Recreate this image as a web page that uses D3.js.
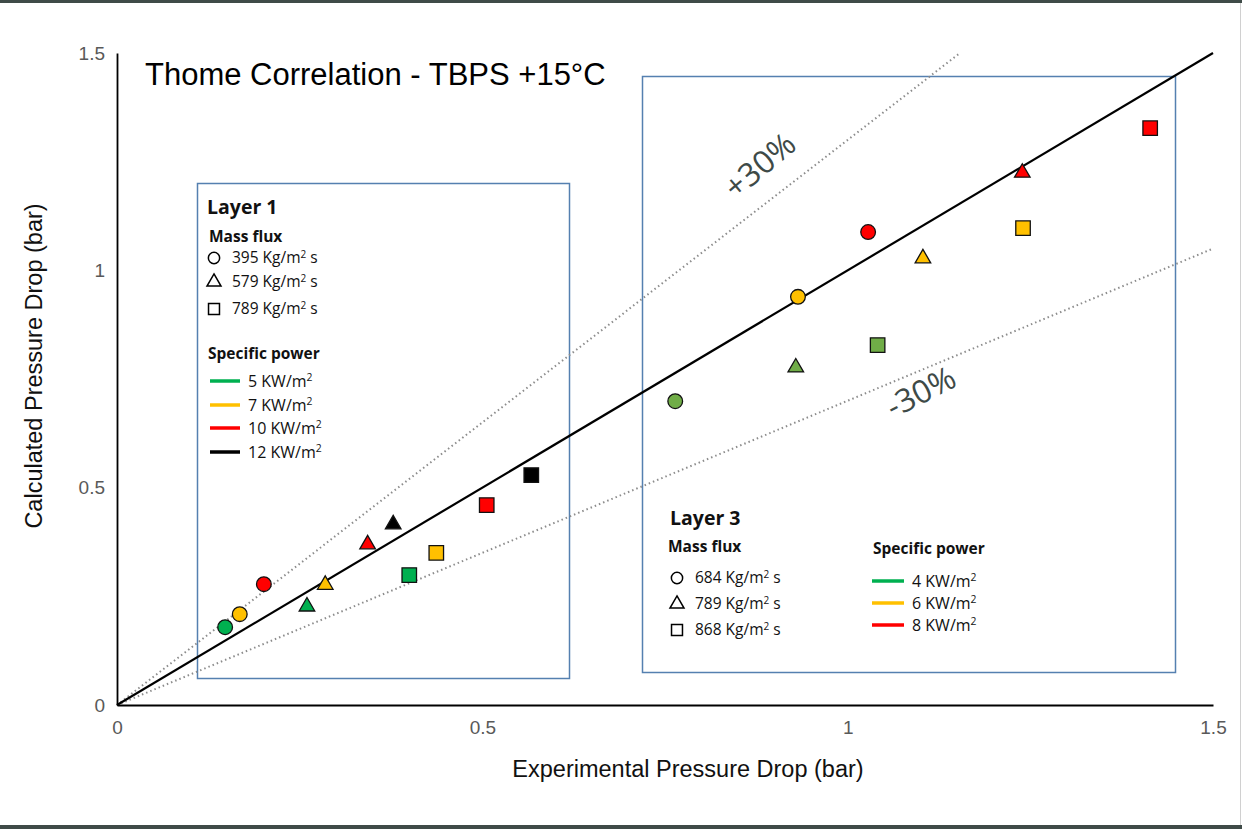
<!DOCTYPE html>
<html><head><meta charset="utf-8">
<script src="https://cdn.jsdelivr.net/npm/d3@7"></script>
<style>body{margin:0;background:#fff}svg{display:block}</style>
</head><body><svg id="c" width="1242" height="829"></svg>
<script>
// ---- data ----
const xTicks = [0, 0.5, 1, 1.5];
const yTicks = [0, 0.5, 1, 1.5];
const xTickLabels = ["0", "0.5", "1", "1.5"];
const yTickLabels = ["0", "0.5", "1", "1.5"];

// Layer 1
const l1Exp   = [0.148, 0.168, 0.201, 0.260, 0.285, 0.343, 0.378, 0.400, 0.437, 0.506, 0.567];
const l1Calc  = [0.179, 0.209, 0.278, 0.230, 0.280, 0.373, 0.419, 0.299, 0.350, 0.460, 0.529];
const l1Flux  = ["395", "395", "395", "579", "579", "579", "579", "789", "789", "789", "789"];
const l1Power = ["5", "7", "10", "5", "7", "10", "12", "5", "7", "10", "12"];
const l1FluxLevels  = ["395", "579", "789"];
const l1PowerLevels = ["5", "7", "10", "12"];

// Layer 3
const l3Exp   = [0.764, 0.932, 1.028, 0.929, 1.103, 1.239, 1.041, 1.240, 1.414];
const l3Calc  = [0.699, 0.939, 1.088, 0.780, 1.031, 1.228, 0.828, 1.097, 1.327];
const l3Flux  = ["684", "684", "684", "789", "789", "789", "868", "868", "868"];
const l3Power = ["4", "6", "8", "4", "6", "8", "4", "6", "8"];
const l3FluxLevels  = ["684", "789", "868"];
const l3PowerLevels = ["4", "6", "8"];

const bandFactors = [1.3, 0.7];
const bandLabels = ["+30%", "-30%"];

// ---- layout ----
const svg = d3.select("#c");
const x = d3.scaleLinear().domain([0, 1.5]).range([117, 1213]);
const y = d3.scaleLinear().domain([0, 1.5]).range([705, 53]);
const shapes = [d3.symbolCircle, d3.symbolTriangle, d3.symbolSquare];
const shapeSize = [170, 105, 210];
const l1Color = d3.scaleOrdinal().domain(l1PowerLevels).range(["#00B050", "#FFC000", "#FF0000", "#000000"]);
const l3Color = d3.scaleOrdinal().domain(l3PowerLevels).range(["#70AD47", "#FFC000", "#FF0000"]);
const l3LegendColor = d3.scaleOrdinal().domain(l3PowerLevels).range(["#00B050", "#FFC000", "#FF0000"]);
const legendFont = "'Open Sans', 'Noto Sans', sans-serif";
const mainFont = "'Liberation Sans', Arial, sans-serif";

// frame
svg.append("rect").attr("x", 0).attr("y", 0).attr("width", 1242).attr("height", 3).attr("fill", "#3F4B48");
svg.append("rect").attr("x", 0).attr("y", 825).attr("width", 1242).attr("height", 4).attr("fill", "#3F4B48");
svg.append("line").attr("x1", 1240.5).attr("x2", 1240.5).attr("y1", 3).attr("y2", 825).attr("stroke", "#D0D0D0");

// legend boxes
const boxStroke = "#5580B0";
svg.append("rect").attr("x", 197.5).attr("y", 183.5).attr("width", 372).attr("height", 495)
  .attr("fill", "none").attr("stroke", boxStroke).attr("stroke-width", 1.5);
svg.append("rect").attr("x", 642.5).attr("y", 76.5).attr("width", 533).attr("height", 596)
  .attr("fill", "none").attr("stroke", boxStroke).attr("stroke-width", 1.5);

// band lines
bandFactors.forEach(f => {
  const xe = Math.min(1.5, 1.5 / f);
  svg.append("line").attr("x1", x(0)).attr("y1", y(0)).attr("x2", x(xe)).attr("y2", y(xe * f))
    .attr("stroke", "#8C8C8C").attr("stroke-width", 2).attr("stroke-dasharray", "1.5,3");
});
// 1:1 line
svg.append("line").attr("x1", x(0)).attr("y1", y(0)).attr("x2", x(1.5)).attr("y2", y(1.5))
  .attr("stroke", "#000").attr("stroke-width", 2.2);

// axes
const xAxis = d3.axisBottom(x).tickValues(xTicks).tickFormat((d, i) => xTickLabels[i]).tickSize(0).tickPadding(16);
const yAxis = d3.axisLeft(y).tickValues(yTicks).tickFormat((d, i) => yTickLabels[i]).tickSize(0).tickPadding(12);
const gx = svg.append("g").attr("transform", "translate(0,705)").call(xAxis);
const gy = svg.append("g").attr("transform", "translate(117,0)").call(yAxis);
gx.select(".domain").attr("stroke", "#000").attr("stroke-width", 2.2);
gy.select(".domain").attr("stroke", "#000").attr("stroke-width", 1.8);
[gx, gy].forEach(g => g.selectAll("text").attr("fill", "#595959").attr("font-size", 19).attr("font-family", mainFont));

// axis titles
svg.append("text").attr("x", 688).attr("y", 777).attr("text-anchor", "middle")
  .attr("font-family", mainFont).attr("font-size", 23.5).attr("fill", "#111").text("Experimental Pressure Drop (bar)");
svg.append("text").attr("transform", "translate(42,366) rotate(-90)").attr("text-anchor", "middle")
  .attr("font-family", mainFont).attr("font-size", 23.5).attr("fill", "#111").text("Calculated Pressure Drop (bar)");

// title
svg.append("text").attr("x", 145).attr("y", 85).attr("font-family", mainFont).attr("font-size", 31)
  .attr("fill", "#000").text("Thome Correlation - TBPS +15°C");

// band labels
svg.append("text").attr("transform", "translate(767,174) rotate(-40)").attr("text-anchor", "middle")
  .attr("font-family", legendFont).attr("font-size", 32).attr("fill", "#3E4A47").text(bandLabels[0]);
svg.append("text").attr("transform", "translate(926,402) rotate(-27)").attr("text-anchor", "middle")
  .attr("font-family", legendFont).attr("font-size", 32).attr("fill", "#3E4A47").text(bandLabels[1]);

// points
function drawPoints(ex, ca, flux, power, fluxLevels, color) {
  ex.forEach((v, i) => {
    const si = fluxLevels.indexOf(flux[i]);
    svg.append("path")
      .attr("d", d3.symbol().type(shapes[si]).size(shapeSize[si])())
      .attr("transform", `translate(${x(v)},${y(ca[i]) + (si === 1 ? 1.5 : 0)})`)
      .attr("fill", color(power[i])).attr("stroke", "#111").attr("stroke-width", 1.3);
  });
}
drawPoints(l1Exp, l1Calc, l1Flux, l1Power, l1FluxLevels, l1Color);
drawPoints(l3Exp, l3Calc, l3Flux, l3Power, l3FluxLevels, l3Color);

// legends
function legendText(px, py, txt, size, bold) {
  return svg.append("text").attr("x", px).attr("y", py).attr("font-family", legendFont)
    .attr("font-size", size).attr("font-weight", bold ? "bold" : "normal").attr("fill", "#111").text(txt);
}
function unitText(px, py, num, unit, size) {
  const t = svg.append("text").attr("x", px).attr("y", py).attr("font-family", legendFont)
    .attr("font-size", size).attr("fill", "#111");
  t.append("tspan").text(num + unit);
  t.append("tspan").attr("font-size", size * 0.65).attr("dy", -size * 0.35).text("2");
  return t;
}
function fluxItem(px, py, si, label) {
  svg.append("path").attr("d", d3.symbol().type(shapes[si]).size([100, 85, 120][si])())
    .attr("transform", `translate(${px},${py})`).attr("fill", "#fff").attr("stroke", "#000").attr("stroke-width", 1.5);
  const t = svg.append("text").attr("x", px + 18).attr("y", py + 5).attr("font-family", legendFont)
    .attr("font-size", 15.5).attr("fill", "#111");
  t.append("tspan").text(label + " Kg/m");
  t.append("tspan").attr("font-size", 10).attr("dy", -5).text("2");
  t.append("tspan").attr("dy", 5).text(" s");
}
// Layer 1 legend
legendText(207, 214, "Layer 1", 19.5, true);
legendText(209, 242, "Mass flux", 15.5, true);
l1FluxLevels.forEach((f, i) => fluxItem(214, [258, 282, 309][i], i, f));
legendText(208, 359, "Specific power", 15.5, true);
l1PowerLevels.forEach((p, i) => {
  const py = [381, 405, 428, 452][i];
  svg.append("line").attr("x1", 210).attr("x2", 240).attr("y1", py).attr("y2", py)
    .attr("stroke", l1Color(p)).attr("stroke-width", 3.5);
  unitText(248, py + 6, p, " KW/m", 16);
});
// Layer 3 legend
legendText(670, 525, "Layer 3", 19.5, true);
legendText(668, 552, "Mass flux", 15.5, true);
l3FluxLevels.forEach((f, i) => fluxItem(677, [578, 604, 630][i], i, f));
legendText(873, 554, "Specific power", 15.5, true);
l3PowerLevels.forEach((p, i) => {
  const py = [581, 603, 625][i];
  svg.append("line").attr("x1", 872).attr("x2", 904).attr("y1", py).attr("y2", py)
    .attr("stroke", l3LegendColor(p)).attr("stroke-width", 3.5);
  unitText(912, py + 6, p, " KW/m", 16);
});
</script></body></html>
